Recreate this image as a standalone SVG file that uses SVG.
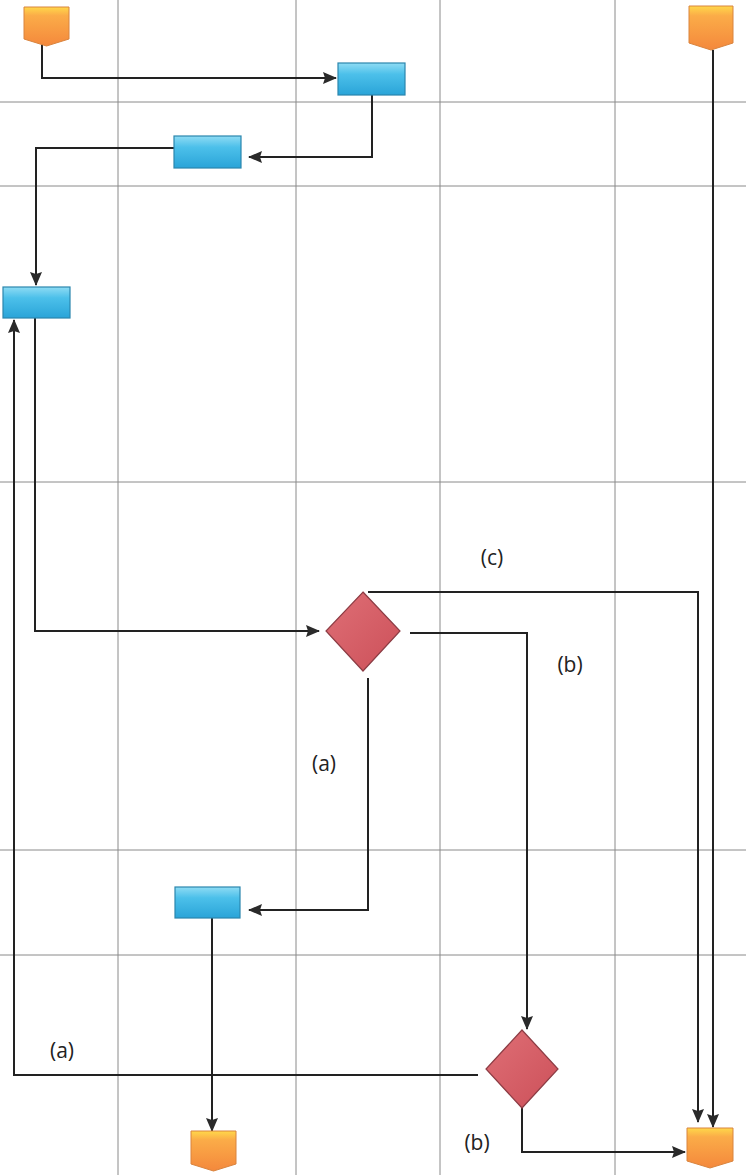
<svg xmlns="http://www.w3.org/2000/svg" width="746" height="1175" viewBox="0 0 746 1175">
<defs>
<linearGradient id="gBlue" x1="0" y1="0" x2="0" y2="1">
<stop offset="0" stop-color="#8fdcf4"/><stop offset="0.35" stop-color="#4cc0ea"/><stop offset="1" stop-color="#2aa4d8"/>
</linearGradient>
<linearGradient id="gOrange" x1="0" y1="0" x2="0" y2="1">
<stop offset="0" stop-color="#ffd84a"/><stop offset="0.22" stop-color="#fbac48"/><stop offset="1" stop-color="#f4883c"/>
</linearGradient>
<linearGradient id="gRed" x1="0" y1="0" x2="1" y2="1">
<stop offset="0" stop-color="#df6f76"/><stop offset="1" stop-color="#cc5059"/>
</linearGradient>
<marker id="arr" viewBox="0 0 14 12" refX="13" refY="6" markerWidth="14" markerHeight="12" markerUnits="userSpaceOnUse" orient="auto">
<path d="M0,0 L14,6 L0,12 L2,6 Z" fill="#2a2a2a"/>
</marker>
</defs>
<style>
.grid{stroke:#8a8a8a;stroke-width:1;fill:none}
.conn{stroke:#222;stroke-width:2;fill:none}
.proc{fill:url(#gBlue);stroke:#2b86ad;stroke-width:1.2}
.term{fill:url(#gOrange);stroke:#d9843e;stroke-width:1}
.dec{fill:url(#gRed);stroke:#8c3c44;stroke-width:1.2}
.lbl{font-family:"Open Sans","Liberation Sans",sans-serif;font-size:21px;fill:#222;text-anchor:middle}
</style>
<rect width="746" height="1175" fill="#ffffff"/>
<g id="grid">
<line class="grid" x1="118" y1="0" x2="118" y2="1175"/>
<line class="grid" x1="296" y1="0" x2="296" y2="1175"/>
<line class="grid" x1="440" y1="0" x2="440" y2="1175"/>
<line class="grid" x1="615" y1="0" x2="615" y2="1175"/>
<line class="grid" x1="0" y1="102" x2="746" y2="102"/>
<line class="grid" x1="0" y1="186" x2="746" y2="186"/>
<line class="grid" x1="0" y1="482" x2="746" y2="482"/>
<line class="grid" x1="0" y1="850" x2="746" y2="850"/>
<line class="grid" x1="0" y1="955" x2="746" y2="955"/>
</g>
<g id="connectors">
<polyline class="conn" points="42,37 42,78 336,78" marker-end="url(#arr)"/>
<polyline class="conn" points="372,95 372,157 249,157" marker-end="url(#arr)"/>
<polyline class="conn" points="174,148 36,148 36,285" marker-end="url(#arr)"/>
<polyline class="conn" points="35,318 35,631 319,631" marker-end="url(#arr)"/>
<polyline class="conn" points="368,592 698,592 698,1122" marker-end="url(#arr)"/>
<polyline class="conn" points="410,633 527,633 527,1029" marker-end="url(#arr)"/>
<polyline class="conn" points="368,678 368,910 249,910" marker-end="url(#arr)"/>
<polyline class="conn" points="212,918 212,1131" marker-end="url(#arr)"/>
<polyline class="conn" points="478,1075 14,1075 14,320" marker-end="url(#arr)"/>
<polyline class="conn" points="522,1108 522,1152 685,1152" marker-end="url(#arr)"/>
<polyline class="conn" points="713,50 713,1127" marker-end="url(#arr)"/>
</g>
<g id="start1"><path class="term" d="M24,7 H69 V39 L46.5,46 L24,39 Z"/></g>
<g id="start2"><path class="term" d="M689,6 H733 V43 L711,50 L689,43 Z"/></g>
<g id="step1"><rect class="proc" x="338" y="63" width="67" height="32"/></g>
<g id="step2"><rect class="proc" x="174" y="136" width="67" height="32"/></g>
<g id="step3"><rect class="proc" x="3" y="287" width="67" height="31"/></g>
<g id="decision1"><path class="dec" d="M363,592 L400,631 L363,671 L326,631 Z"/></g>
<g id="step4"><rect class="proc" x="175" y="887" width="65" height="31"/></g>
<g id="decision2"><path class="dec" d="M522,1030 L558,1069 L522,1108 L486,1069 Z"/></g>
<g id="end1"><path class="term" d="M191,1131 H236 V1164 L213.5,1171 L191,1164 Z"/></g>
<g id="end2"><path class="term" d="M687,1128 H733 V1161 L710,1168 L687,1161 Z"/></g>
<g id="labels">
<text class="lbl" x="492" y="565">(c)</text>
<text class="lbl" x="570" y="672">(b)</text>
<text class="lbl" x="324" y="771">(a)</text>
<text class="lbl" x="62" y="1058">(a)</text>
<text class="lbl" x="477" y="1150">(b)</text>
</g>
</svg>
